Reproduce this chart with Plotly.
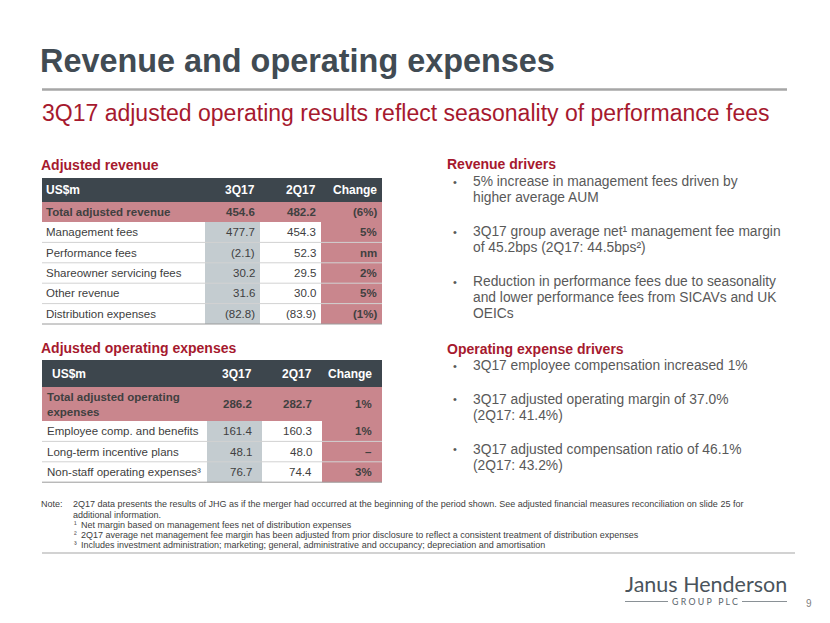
import plotly.graph_objects as go

W, H = 830, 623
OFF = 8  # default page margin of the html body

# ---------------- data ----------------
title = "Revenue and operating expenses"
subtitle = "3Q17 adjusted operating results reflect seasonality of performance fees"

col_headers = ["US$m", "3Q17", "2Q17", "Change"]

rev_title = "Adjusted revenue"
rev_labels = ["Total adjusted revenue", "Management fees", "Performance fees",
              "Shareowner servicing fees", "Other revenue", "Distribution expenses"]
rev_3q17 = [454.6, 477.7, -2.1, 30.2, 31.6, -82.8]
rev_2q17 = [482.2, 454.3, 52.3, 29.5, 30.0, -83.9]
rev_change = ["(6%)", "5%", "nm", "2%", "5%", "(1%)"]

opex_title = "Adjusted operating expenses"
opex_labels = ["Total adjusted operating<br>expenses", "Employee comp. and benefits",
               "Long-term incentive plans", "Non-staff operating expenses³"]
opex_3q17 = [286.2, 161.4, 48.1, 76.7]
opex_2q17 = [282.7, 160.3, 48.0, 74.4]
opex_change = ["1%", "1%", "–", "3%"]

rev_drivers_title = "Revenue drivers"
rev_drivers = [
    ["5% increase in management fees driven by", "higher average AUM"],
    ["3Q17 group average net¹ management fee margin", "of 45.2bps (2Q17: 44.5bps²)"],
    ["Reduction in performance fees due to seasonality",
     "and lower performance fees from SICAVs and UK", "OEICs"],
]
opex_drivers_title = "Operating expense drivers"
opex_drivers = [
    ["3Q17 employee compensation increased 1%"],
    ["3Q17 adjusted operating margin of 37.0%", "(2Q17: 41.4%)"],
    ["3Q17 adjusted compensation ratio of 46.1%", "(2Q17: 43.2%)"],
]

note_label = "Note:"
note_lines = [
    "2Q17 data presents the results of JHG as if the merger had occurred at the beginning of the period shown. See adjusted financial measures reconciliation on slide 25 for",
    "additional information.",
]
footnotes = [
    ("¹", "Net margin based on management fees net of distribution expenses"),
    ("²", "2Q17 average net management fee margin has been adjusted from prior disclosure to reflect a consistent treatment of distribution expenses"),
    ("³", "Includes investment administration; marketing; general, administrative and occupancy; depreciation and amortisation"),
]
logo_name = "Janus Henderson"
logo_sub = "G R O U P   P L C"
page_no = "9"

# ---------------- style ----------------
FONT = "Liberation Sans, Arial, sans-serif"
RED = "#A6192E"
SLATE = "#414B53"
TEXT = "#404040"
GREY_TXT = "#595959"
HDR = "#3D464D"
PINK = "#C9868D"
GREYCOL = "#C4CCD0"
TS = 11.5  # table font size

shapes = []
ann = []


def text(x, y, s, size, color, xanchor="left", bold=False, family=FONT, yanchor="middle"):
    ann.append(dict(x=x, y=y, xref="x", yref="y", text=(f"<b>{s}</b>" if bold else s),
                    showarrow=False, xanchor=xanchor, yanchor=yanchor,
                    align=xanchor if xanchor != "center" else "center",
                    font=dict(family=family, size=size, color=color), borderpad=0))


def rect(x0, y0, x1, y1, color):
    shapes.append(dict(type="rect", xref="x", yref="y", x0=x0, y0=y0, x1=x1, y1=y1,
                       fillcolor=color, line=dict(width=0), layer="below"))


def line(x0, y0, x1, y1, color, width=1):
    shapes.append(dict(type="line", xref="x", yref="y", x0=x0, y0=y0, x1=x1, y1=y1,
                       line=dict(color=color, width=width)))


def fmt(v):
    return f"({abs(v):.1f})" if v < 0 else f"{v:.1f}"


def draw_table(edges, top, header_h, total_h, row_h, labels, v3, v2, ch, lpad, rpad, hlpad):
    x0, x1, x2, x3, x4 = edges
    # header
    rect(x0, top, x4, top + header_h, HDR)
    yc = top + header_h / 2
    text(x0 + hlpad, yc, col_headers[0], 12, "white", bold=True)
    for xr, s in zip([x2, x3, x4], col_headers[1:]):
        text(xr - rpad, yc, s, 12, "white", xanchor="right", bold=True)
    # total row
    t0 = top + header_h
    rect(x0, t0, x4, t0 + total_h, PINK)
    yc = t0 + total_h / 2
    text(x0 + lpad, yc, labels[0], TS, TEXT, bold=True)
    text(x2 - rpad, yc, fmt(v3[0]), TS, TEXT, xanchor="right", bold=True)
    text(x3 - rpad, yc, fmt(v2[0]), TS, TEXT, xanchor="right", bold=True)
    text(x4 - rpad, yc, ch[0], TS, TEXT, xanchor="right", bold=True)
    # body
    b0 = t0 + total_h
    n = len(labels) - 1
    b1 = b0 + n * row_h
    rect(x1, b0, x2, b1, GREYCOL)
    rect(x3, b0, x4, b1, PINK)
    for i in range(1, n + 1):
        r0 = b0 + (i - 1) * row_h
        yc = r0 + row_h / 2
        text(x0 + lpad, yc, labels[i], TS, TEXT)
        text(x2 - rpad, yc, fmt(v3[i]), TS, TEXT, xanchor="right")
        text(x3 - rpad, yc, fmt(v2[i]), TS, TEXT, xanchor="right")
        text(x4 - rpad, yc, ch[i], TS, TEXT, xanchor="right", bold=True)
        line(x0, r0 + row_h, x4, r0 + row_h, "#9A9A9A" if i == n else "#D2D2D2", 1)


# ---------------- header ----------------
text(39, 61, title, 32.4, SLATE, bold=True)
line(42, 89.5, 787, 89.5, "#A6A6A6", 2.5)
text(41, 112.5, subtitle, 23, RED)

# ---------------- tables ----------------
text(40, 165, rev_title, 14, RED, bold=True)
draw_table([42, 205, 260, 321, 382], 178, 24, 20, 20.4,
           rev_labels, rev_3q17, rev_2q17, rev_change, lpad=3, rpad=4, hlpad=3)

text(40, 348, opex_title, 14, RED, bold=True)
draw_table([42, 207, 262, 322, 382], 360, 27, 34, 20.4,
           opex_labels, opex_3q17, opex_2q17, opex_change, lpad=4, rpad=9.5, hlpad=9)

# ---------------- drivers ----------------
def drivers(title_y, head, items, starts):
    text(446, title_y, head, 14, RED, bold=True)
    for lines_, y0 in zip(items, starts):
        text(455, y0, "•", 11, GREY_TXT, xanchor="center")
        for k, s in enumerate(lines_):
            text(472, y0 + k * 16.2, s, 13.8, GREY_TXT)


drivers(164, rev_drivers_title, rev_drivers, [181.5, 231.5, 281.5])
drivers(349, opex_drivers_title, opex_drivers, [365.5, 399, 449])

# ---------------- notes ----------------
NOTE_C = "#404040"
text(40, 504, note_label, 9, NOTE_C)
for k, s in enumerate(note_lines):
    text(72, 504 + k * 10.5, s, 9, NOTE_C)
for k, (sup, s) in enumerate(footnotes):
    y = 525 + k * 10
    text(73, y - 1, sup, 8, NOTE_C)
    text(80, y, s, 9, NOTE_C)
line(42, 553, 795, 553, "#A6A6A6", 1.2)

# ---------------- logo ----------------
text(624, 584, logo_name, 21.5, "#4A545C", family="Lato, Open Sans, sans-serif")
text(705, 601.5, logo_sub, 8.8, "#5A646B", xanchor="center", family="Lato, Open Sans, sans-serif")
line(625, 601.5, 668, 601.5, "#8A9196", 1)
line(742, 601.5, 787, 601.5, "#8A9196", 1)
text(809, 603, page_no, 10, "#7F7F7F", xanchor="center")

fig = go.Figure(go.Scatter(x=[], y=[]))
fig.update_layout(
    width=W - OFF, height=H - OFF, margin=dict(l=0, r=0, t=0, b=0),
    paper_bgcolor="white", plot_bgcolor="white", showlegend=False,
    xaxis=dict(range=[OFF, W], visible=False, fixedrange=True),
    yaxis=dict(range=[H, OFF], visible=False, fixedrange=True),
    shapes=shapes, annotations=ann,
)
fig.write_html("out.html", config={"displayModeBar": False})
